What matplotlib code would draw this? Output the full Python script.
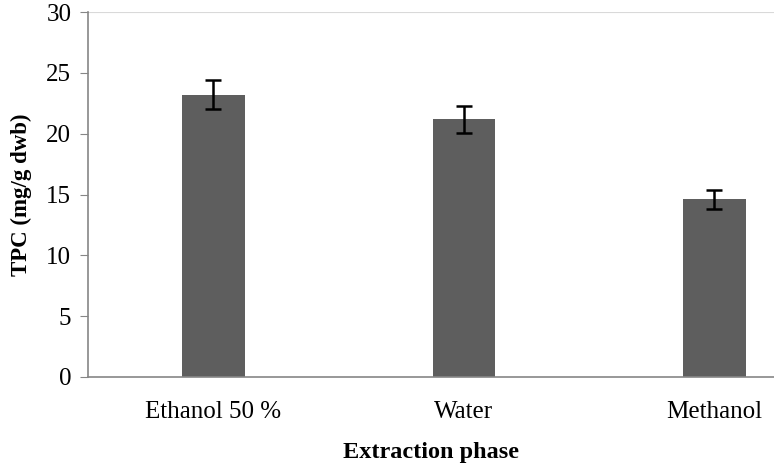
import numpy as np
import matplotlib.pyplot as plt

# Datos
fases = ['Ethanol 50 %', 'Water', 'Methanol']
tpc = [23.2, 21.2, 14.6]
erro = [1.2, 1.1, 0.8]

plt.rcParams['font.family'] = ['Liberation Serif', 'DejaVu Serif']

fig = plt.figure(figsize=(7.74, 4.66), dpi=100)
ax = fig.add_axes([0.1137, 0.191, 0.8863, 0.783])

x = np.arange(len(fases))
ax.bar(x, tpc, width=0.25, color='#5e5e5e', zorder=2)
ax.errorbar(x, tpc, yerr=erro, fmt='none', ecolor='black', elinewidth=1.8,
            capsize=6, capthick=1.8, zorder=3)

ax.set_xlim(-0.5, 2.238)
ax.set_ylim(0, 30)
ax.set_yticks(range(0, 31, 5))
ax.set_xticks(x)
ax.set_xticklabels(fases)
ax.axhline(30, color='#d9d9d9', lw=0.8, zorder=1)

for s in ['top', 'right']:
    ax.spines[s].set_visible(False)
for s in ['left', 'bottom']:
    ax.spines[s].set_color('#868686')
    ax.spines[s].set_linewidth(1.2)

ax.tick_params(axis='y', direction='out', length=6, color='#868686', labelsize=18, pad=6)
ax.tick_params(axis='x', length=0, labelsize=18, pad=17)

ax.set_xlabel('Extraction phase', fontsize=17.5, fontweight='bold', labelpad=14)
ax.set_ylabel('TPC (mg/g dwb)', fontsize=16.5, fontweight='bold', labelpad=10)

fig.savefig('out.png', dpi=100)
